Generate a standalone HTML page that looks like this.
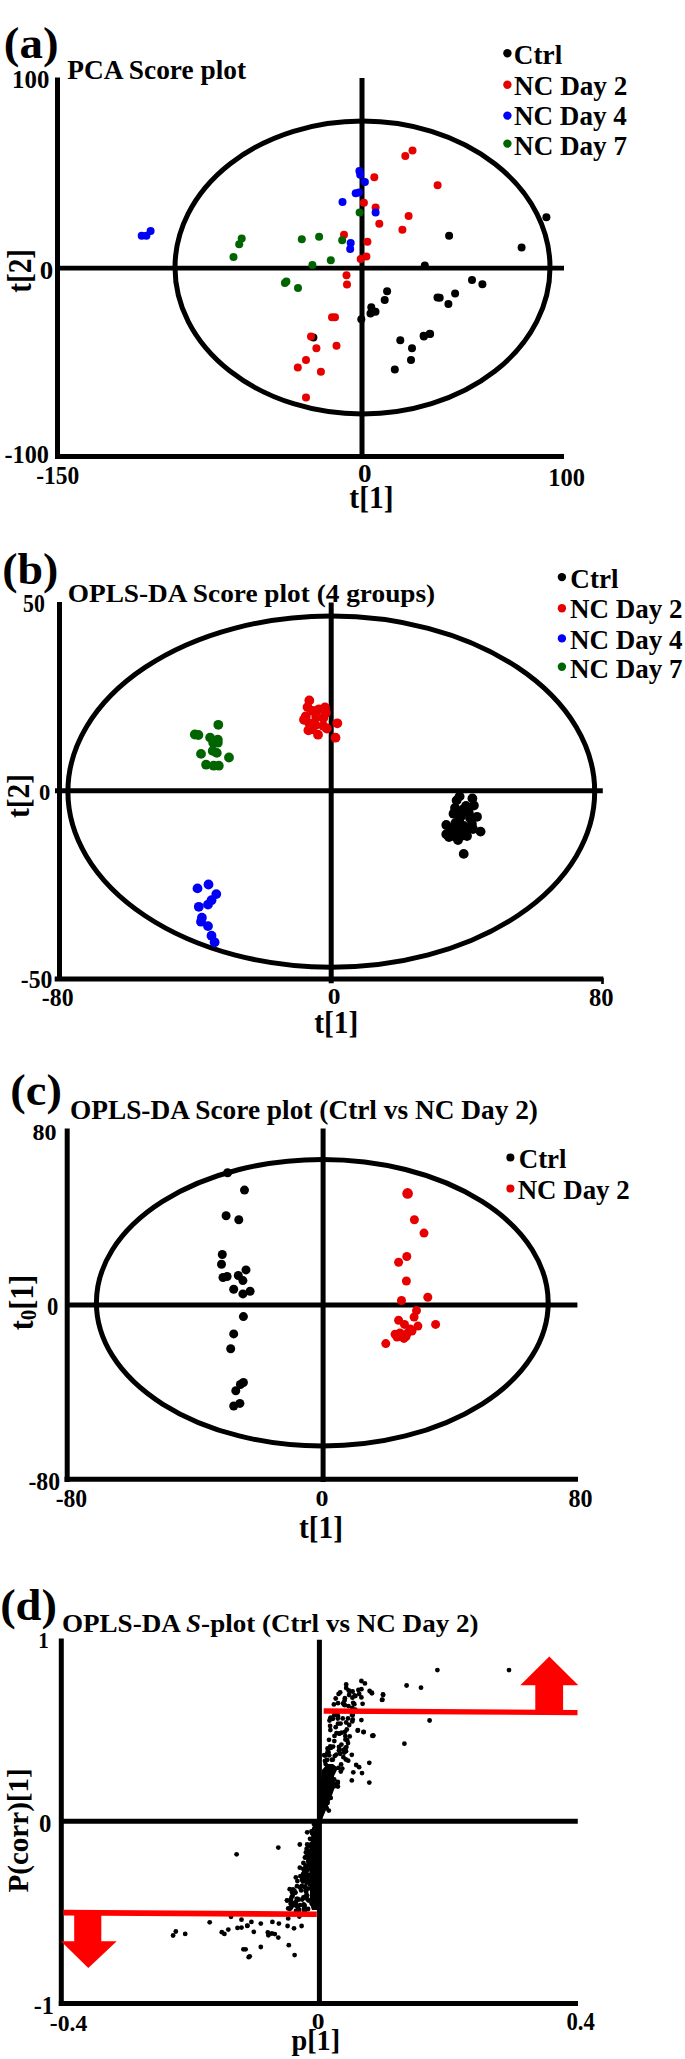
<!DOCTYPE html>
<html><head><meta charset="utf-8"><style>
html,body{margin:0;padding:0;background:#fff;}
body{width:685px;height:2059px;overflow:hidden;}
svg{display:block;}
text{font-family:"Liberation Serif",serif;font-weight:bold;fill:#000;}
</style></head><body>
<svg width="685" height="2059" viewBox="0 0 685 2059">
<rect width="685" height="2059" fill="#fff"/>
<ellipse cx="362.5" cy="267.5" rx="187.5" ry="146.5" fill="none" stroke="#000" stroke-width="5"/>
<line x1="57.5" y1="77.5" x2="57.5" y2="459" stroke="#000" stroke-width="5"/>
<line x1="55" y1="456.5" x2="564" y2="456.5" stroke="#000" stroke-width="5"/>
<line x1="57" y1="268.2" x2="564" y2="268.2" stroke="#000" stroke-width="4.8"/>
<line x1="362" y1="78" x2="362" y2="459" stroke="#000" stroke-width="5"/>
<circle cx="546.4" cy="217.2" r="4" fill="#000"/><circle cx="449.1" cy="235.8" r="4" fill="#000"/><circle cx="521.6" cy="247.4" r="4" fill="#000"/><circle cx="424.8" cy="265.6" r="4" fill="#000"/><circle cx="472.0" cy="280.0" r="4" fill="#000"/><circle cx="482.4" cy="284.2" r="4" fill="#000"/><circle cx="455.1" cy="293.4" r="4" fill="#000"/><circle cx="439.7" cy="297.8" r="4" fill="#000"/><circle cx="448.4" cy="304.0" r="4" fill="#000"/><circle cx="429.8" cy="333.8" r="4" fill="#000"/><circle cx="423.6" cy="335.8" r="4" fill="#000"/><circle cx="387.1" cy="291.2" r="4" fill="#000"/><circle cx="384.7" cy="299.9" r="4" fill="#000"/><circle cx="437.5" cy="297.4" r="4" fill="#000"/><circle cx="371.3" cy="307.3" r="4" fill="#000"/><circle cx="375.5" cy="311.8" r="4" fill="#000"/><circle cx="370.5" cy="313.5" r="4" fill="#000"/><circle cx="361.3" cy="319.2" r="4" fill="#000"/><circle cx="400.3" cy="340.3" r="4" fill="#000"/><circle cx="412.0" cy="348.3" r="4" fill="#000"/><circle cx="423.9" cy="336.6" r="4" fill="#000"/><circle cx="430.1" cy="334.1" r="4" fill="#000"/><circle cx="411.0" cy="359.9" r="4" fill="#000"/><circle cx="394.8" cy="369.4" r="4" fill="#000"/><circle cx="313.4" cy="337.6" r="4" fill="#000"/><circle cx="412.5" cy="150.5" r="4" fill="#e60000"/><circle cx="405.3" cy="156.1" r="4" fill="#e60000"/><circle cx="374.3" cy="177.2" r="4" fill="#e60000"/><circle cx="437.6" cy="185.2" r="4" fill="#e60000"/><circle cx="363.9" cy="202.7" r="4" fill="#e60000"/><circle cx="375.6" cy="207.4" r="4" fill="#e60000"/><circle cx="408.6" cy="216.1" r="4" fill="#e60000"/><circle cx="379.3" cy="223.8" r="4" fill="#e60000"/><circle cx="402.4" cy="229.8" r="4" fill="#e60000"/><circle cx="344.0" cy="234.7" r="4" fill="#e60000"/><circle cx="367.4" cy="241.7" r="4" fill="#e60000"/><circle cx="366.4" cy="256.6" r="4" fill="#e60000"/><circle cx="360.7" cy="259.1" r="4" fill="#e60000"/><circle cx="346.5" cy="275.2" r="4" fill="#e60000"/><circle cx="347.0" cy="284.4" r="4" fill="#e60000"/><circle cx="332.0" cy="317.2" r="4" fill="#e60000"/><circle cx="335.0" cy="317.2" r="4" fill="#e60000"/><circle cx="311.0" cy="336.6" r="4" fill="#e60000"/><circle cx="316.4" cy="348.3" r="4" fill="#e60000"/><circle cx="336.5" cy="345.8" r="4" fill="#e60000"/><circle cx="306.0" cy="359.9" r="4" fill="#e60000"/><circle cx="297.8" cy="367.4" r="4" fill="#e60000"/><circle cx="320.9" cy="371.8" r="4" fill="#e60000"/><circle cx="306.0" cy="397.6" r="4" fill="#e60000"/><circle cx="241.7" cy="238.5" r="4" fill="#006400"/><circle cx="239.2" cy="244.2" r="4" fill="#006400"/><circle cx="233.5" cy="257.1" r="4" fill="#006400"/><circle cx="301.8" cy="239.2" r="4" fill="#006400"/><circle cx="319.1" cy="236.7" r="4" fill="#006400"/><circle cx="342.2" cy="240.2" r="4" fill="#006400"/><circle cx="359.6" cy="212.4" r="4" fill="#006400"/><circle cx="330.8" cy="260.3" r="4" fill="#006400"/><circle cx="312.4" cy="265.0" r="4" fill="#006400"/><circle cx="284.9" cy="283.1" r="4" fill="#006400"/><circle cx="286.4" cy="281.4" r="4" fill="#006400"/><circle cx="298.0" cy="288.1" r="4" fill="#006400"/><circle cx="141.7" cy="235.8" r="4" fill="#0000f5"/><circle cx="146.4" cy="235.8" r="4" fill="#0000f5"/><circle cx="150.6" cy="231.1" r="4" fill="#0000f5"/><circle cx="359.4" cy="171.0" r="4" fill="#0000f5"/><circle cx="360.2" cy="174.7" r="4" fill="#0000f5"/><circle cx="364.9" cy="182.1" r="4" fill="#0000f5"/><circle cx="355.7" cy="193.3" r="4" fill="#0000f5"/><circle cx="358.9" cy="192.5" r="4" fill="#0000f5"/><circle cx="342.5" cy="202.0" r="4" fill="#0000f5"/><circle cx="375.6" cy="212.4" r="4" fill="#0000f5"/><circle cx="350.7" cy="242.9" r="4" fill="#0000f5"/><circle cx="350.2" cy="249.1" r="4" fill="#0000f5"/>
<ellipse cx="331.3" cy="791.6" rx="263.4" ry="175.6" fill="none" stroke="#000" stroke-width="5"/>
<line x1="59.5" y1="602" x2="59.5" y2="981" stroke="#000" stroke-width="5"/>
<line x1="54.7" y1="979.1" x2="603.4" y2="979.1" stroke="#000" stroke-width="5"/>
<rect x="601.2" y="978" width="2.6" height="6" fill="#000"/>
<line x1="55" y1="790.8" x2="602.8" y2="790.8" stroke="#000" stroke-width="5"/>
<line x1="331.2" y1="602.4" x2="331.2" y2="983.3" stroke="#000" stroke-width="5"/>
<circle cx="218.3" cy="724.8" r="4.9" fill="#006400"/><circle cx="194.8" cy="734.5" r="4.9" fill="#006400"/><circle cx="198.4" cy="735.0" r="4.9" fill="#006400"/><circle cx="210.1" cy="737.6" r="4.9" fill="#006400"/><circle cx="217.8" cy="739.6" r="4.9" fill="#006400"/><circle cx="213.2" cy="742.7" r="4.9" fill="#006400"/><circle cx="217.8" cy="742.7" r="4.9" fill="#006400"/><circle cx="201.0" cy="753.9" r="4.9" fill="#006400"/><circle cx="212.7" cy="750.9" r="4.9" fill="#006400"/><circle cx="216.8" cy="752.9" r="4.9" fill="#006400"/><circle cx="229.0" cy="757.5" r="4.9" fill="#006400"/><circle cx="206.1" cy="764.7" r="4.9" fill="#006400"/><circle cx="213.7" cy="765.7" r="4.9" fill="#006400"/><circle cx="218.8" cy="765.7" r="4.9" fill="#006400"/><circle cx="309.3" cy="700.5" r="4.9" fill="#e60000"/><circle cx="307.5" cy="707.1" r="4.9" fill="#e60000"/><circle cx="305.8" cy="716.3" r="4.9" fill="#e60000"/><circle cx="312.8" cy="711.0" r="4.9" fill="#e60000"/><circle cx="318.9" cy="709.3" r="4.9" fill="#e60000"/><circle cx="325.0" cy="707.5" r="4.9" fill="#e60000"/><circle cx="325.9" cy="712.8" r="4.9" fill="#e60000"/><circle cx="316.3" cy="717.2" r="4.9" fill="#e60000"/><circle cx="323.3" cy="718.0" r="4.9" fill="#e60000"/><circle cx="309.3" cy="723.3" r="4.9" fill="#e60000"/><circle cx="315.4" cy="725.0" r="4.9" fill="#e60000"/><circle cx="323.3" cy="725.9" r="4.9" fill="#e60000"/><circle cx="308.4" cy="730.3" r="4.9" fill="#e60000"/><circle cx="318.0" cy="734.7" r="4.9" fill="#e60000"/><circle cx="326.8" cy="728.5" r="4.9" fill="#e60000"/><circle cx="337.3" cy="723.3" r="4.9" fill="#e60000"/><circle cx="335.5" cy="737.7" r="4.9" fill="#e60000"/><circle cx="311.9" cy="729.4" r="4.9" fill="#e60000"/><circle cx="304.0" cy="719.8" r="4.9" fill="#e60000"/><circle cx="459.6" cy="796.4" r="4.9" fill="#000"/><circle cx="456.6" cy="800.4" r="4.9" fill="#000"/><circle cx="472.4" cy="798.4" r="4.9" fill="#000"/><circle cx="473.9" cy="805.5" r="4.9" fill="#000"/><circle cx="462.7" cy="809.6" r="4.9" fill="#000"/><circle cx="453.5" cy="813.7" r="4.9" fill="#000"/><circle cx="468.8" cy="812.7" r="4.9" fill="#000"/><circle cx="477.0" cy="816.8" r="4.9" fill="#000"/><circle cx="460.7" cy="816.8" r="4.9" fill="#000"/><circle cx="446.3" cy="825.0" r="4.9" fill="#000"/><circle cx="455.5" cy="822.9" r="4.9" fill="#000"/><circle cx="463.7" cy="826.0" r="4.9" fill="#000"/><circle cx="471.9" cy="823.9" r="4.9" fill="#000"/><circle cx="446.3" cy="834.2" r="4.9" fill="#000"/><circle cx="454.5" cy="836.2" r="4.9" fill="#000"/><circle cx="461.7" cy="835.7" r="4.9" fill="#000"/><circle cx="457.6" cy="830.1" r="4.9" fill="#000"/><circle cx="480.6" cy="831.6" r="4.9" fill="#000"/><circle cx="463.7" cy="853.9" r="4.9" fill="#000"/><circle cx="466.0" cy="806.0" r="4.9" fill="#000"/><circle cx="470.0" cy="818.0" r="4.9" fill="#000"/><circle cx="459.0" cy="822.0" r="4.9" fill="#000"/><circle cx="451.0" cy="829.0" r="4.9" fill="#000"/><circle cx="466.0" cy="830.0" r="4.9" fill="#000"/><circle cx="449.0" cy="837.0" r="4.9" fill="#000"/><circle cx="458.0" cy="840.0" r="4.9" fill="#000"/><circle cx="473.0" cy="829.0" r="4.9" fill="#000"/><circle cx="462.0" cy="813.0" r="4.9" fill="#000"/><circle cx="455.0" cy="808.0" r="4.9" fill="#000"/><circle cx="467.0" cy="836.0" r="4.9" fill="#000"/><circle cx="208.5" cy="884.5" r="4.9" fill="#0000f5"/><circle cx="197.5" cy="888.4" r="4.9" fill="#0000f5"/><circle cx="216.3" cy="894.1" r="4.9" fill="#0000f5"/><circle cx="211.5" cy="900.2" r="4.9" fill="#0000f5"/><circle cx="208.0" cy="904.6" r="4.9" fill="#0000f5"/><circle cx="198.8" cy="906.8" r="4.9" fill="#0000f5"/><circle cx="201.9" cy="917.7" r="4.9" fill="#0000f5"/><circle cx="201.0" cy="921.7" r="4.9" fill="#0000f5"/><circle cx="208.0" cy="926.1" r="4.9" fill="#0000f5"/><circle cx="211.5" cy="935.7" r="4.9" fill="#0000f5"/><circle cx="214.6" cy="942.3" r="4.9" fill="#0000f5"/>
<ellipse cx="322.3" cy="1302.7" rx="225.9" ry="143.3" fill="none" stroke="#000" stroke-width="5"/>
<line x1="67.2" y1="1128.4" x2="67.2" y2="1482" stroke="#000" stroke-width="5"/>
<line x1="64.5" y1="1479.2" x2="578" y2="1479.2" stroke="#000" stroke-width="5"/>
<line x1="67" y1="1305" x2="577.4" y2="1305" stroke="#000" stroke-width="5"/>
<line x1="323.1" y1="1128.5" x2="323.1" y2="1482" stroke="#000" stroke-width="5"/>
<circle cx="227.6" cy="1172.8" r="4.5" fill="#000"/><circle cx="244.5" cy="1190.1" r="4.5" fill="#000"/><circle cx="226.1" cy="1215.7" r="4.5" fill="#000"/><circle cx="238.8" cy="1219.8" r="4.5" fill="#000"/><circle cx="222.3" cy="1254.5" r="4.5" fill="#000"/><circle cx="221.5" cy="1264.2" r="4.5" fill="#000"/><circle cx="223.0" cy="1277.5" r="4.5" fill="#000"/><circle cx="227.1" cy="1276.5" r="4.5" fill="#000"/><circle cx="246.0" cy="1269.9" r="4.5" fill="#000"/><circle cx="238.3" cy="1275.5" r="4.5" fill="#000"/><circle cx="242.9" cy="1280.6" r="4.5" fill="#000"/><circle cx="233.7" cy="1289.3" r="4.5" fill="#000"/><circle cx="242.9" cy="1293.9" r="4.5" fill="#000"/><circle cx="250.1" cy="1291.3" r="4.5" fill="#000"/><circle cx="243.4" cy="1316.6" r="4.5" fill="#000"/><circle cx="233.7" cy="1333.9" r="4.5" fill="#000"/><circle cx="230.7" cy="1348.8" r="4.5" fill="#000"/><circle cx="243.4" cy="1382.5" r="4.5" fill="#000"/><circle cx="240.4" cy="1384.5" r="4.5" fill="#000"/><circle cx="235.8" cy="1390.7" r="4.5" fill="#000"/><circle cx="239.9" cy="1403.4" r="4.5" fill="#000"/><circle cx="233.7" cy="1406.0" r="4.5" fill="#000"/><circle cx="414.4" cy="1219.7" r="4.5" fill="#e60000"/><circle cx="424.0" cy="1233.1" r="4.5" fill="#e60000"/><circle cx="406.8" cy="1256.5" r="4.5" fill="#e60000"/><circle cx="398.6" cy="1262.3" r="4.5" fill="#e60000"/><circle cx="406.4" cy="1281.0" r="4.5" fill="#e60000"/><circle cx="427.8" cy="1297.3" r="4.5" fill="#e60000"/><circle cx="401.5" cy="1300.5" r="4.5" fill="#e60000"/><circle cx="416.5" cy="1310.6" r="4.5" fill="#e60000"/><circle cx="414.1" cy="1317.1" r="4.5" fill="#e60000"/><circle cx="398.6" cy="1320.3" r="4.5" fill="#e60000"/><circle cx="404.5" cy="1324.4" r="4.5" fill="#e60000"/><circle cx="417.9" cy="1326.1" r="4.5" fill="#e60000"/><circle cx="410.3" cy="1329.1" r="4.5" fill="#e60000"/><circle cx="395.1" cy="1334.3" r="4.5" fill="#e60000"/><circle cx="407.4" cy="1333.1" r="4.5" fill="#e60000"/><circle cx="403.9" cy="1338.4" r="4.5" fill="#e60000"/><circle cx="385.8" cy="1343.6" r="4.5" fill="#e60000"/><circle cx="435.6" cy="1324.4" r="4.5" fill="#e60000"/><circle cx="400.0" cy="1333.0" r="4.5" fill="#e60000"/><circle cx="406.0" cy="1336.5" r="4.5" fill="#e60000"/><circle cx="412.0" cy="1331.0" r="4.5" fill="#e60000"/><circle cx="397.0" cy="1337.0" r="4.5" fill="#e60000"/><circle cx="407.6" cy="1193.4" r="5.3" fill="#e60000"/>
<line x1="61.3" y1="1638.4" x2="61.3" y2="2006" stroke="#000" stroke-width="5"/>
<line x1="58.8" y1="2003.5" x2="578" y2="2003.5" stroke="#000" stroke-width="5"/>
<line x1="61" y1="1821.2" x2="577.8" y2="1821.2" stroke="#000" stroke-width="5"/>
<line x1="319.4" y1="1639.7" x2="319.4" y2="2006" stroke="#000" stroke-width="5"/>
<polygon points="319,1823 323.5,1816 331,1798 335,1787 334,1776 338,1768 333,1764 327,1764 322,1770 320,1790" fill="#000"/>
<polygon points="319,1820 316,1822 313,1827 312,1832 311,1846 309,1864 310,1880 310,1904 312,1910 319,1910" fill="#000"/>
<circle cx="361.4" cy="1681.0" r="2.4" fill="#000"/><circle cx="364.9" cy="1683.4" r="2.4" fill="#000"/><circle cx="346.2" cy="1684.5" r="2.4" fill="#000"/><circle cx="346.2" cy="1688.0" r="2.4" fill="#000"/><circle cx="361.4" cy="1689.2" r="2.4" fill="#000"/><circle cx="369.6" cy="1691.0" r="2.4" fill="#000"/><circle cx="371.9" cy="1693.3" r="2.4" fill="#000"/><circle cx="349.7" cy="1691.5" r="2.4" fill="#000"/><circle cx="352.6" cy="1691.5" r="2.4" fill="#000"/><circle cx="338.6" cy="1693.9" r="2.4" fill="#000"/><circle cx="383.0" cy="1694.5" r="2.4" fill="#000"/><circle cx="382.4" cy="1699.7" r="2.4" fill="#000"/><circle cx="349.1" cy="1695.0" r="2.4" fill="#000"/><circle cx="361.4" cy="1697.4" r="2.4" fill="#000"/><circle cx="335.7" cy="1698.5" r="2.4" fill="#000"/><circle cx="362.6" cy="1703.8" r="2.4" fill="#000"/><circle cx="333.9" cy="1704.4" r="2.4" fill="#000"/><circle cx="338.0" cy="1703.2" r="2.4" fill="#000"/><circle cx="348.5" cy="1706.1" r="2.4" fill="#000"/><circle cx="330.4" cy="1718.4" r="2.4" fill="#000"/><circle cx="338.0" cy="1716.1" r="2.4" fill="#000"/><circle cx="342.7" cy="1718.4" r="2.4" fill="#000"/><circle cx="352.0" cy="1714.9" r="2.4" fill="#000"/><circle cx="361.4" cy="1720.1" r="2.4" fill="#000"/><circle cx="346.2" cy="1722.5" r="2.4" fill="#000"/><circle cx="338.0" cy="1723.7" r="2.4" fill="#000"/><circle cx="335.7" cy="1727.2" r="2.4" fill="#000"/><circle cx="330.4" cy="1730.1" r="2.4" fill="#000"/><circle cx="357.9" cy="1730.1" r="2.4" fill="#000"/><circle cx="363.7" cy="1731.8" r="2.4" fill="#000"/><circle cx="373.1" cy="1735.3" r="2.4" fill="#000"/><circle cx="345.0" cy="1731.8" r="2.4" fill="#000"/><circle cx="339.2" cy="1733.6" r="2.4" fill="#000"/><circle cx="334.5" cy="1735.9" r="2.4" fill="#000"/><circle cx="372.3" cy="1735.8" r="2.4" fill="#000"/><circle cx="363.5" cy="1732.2" r="2.4" fill="#000"/><circle cx="357.7" cy="1730.7" r="2.4" fill="#000"/><circle cx="346.0" cy="1751.2" r="2.4" fill="#000"/><circle cx="351.8" cy="1754.8" r="2.4" fill="#000"/><circle cx="356.2" cy="1765.0" r="2.4" fill="#000"/><circle cx="359.1" cy="1767.2" r="2.4" fill="#000"/><circle cx="369.3" cy="1762.8" r="2.4" fill="#000"/><circle cx="353.3" cy="1772.3" r="2.4" fill="#000"/><circle cx="362.0" cy="1773.1" r="2.4" fill="#000"/><circle cx="351.8" cy="1780.4" r="2.4" fill="#000"/><circle cx="369.3" cy="1782.6" r="2.4" fill="#000"/><circle cx="334.3" cy="1786.2" r="2.4" fill="#000"/><circle cx="330.7" cy="1797.9" r="2.4" fill="#000"/><circle cx="348.2" cy="1760.7" r="2.4" fill="#000"/><circle cx="437.4" cy="1670.1" r="2.4" fill="#000"/><circle cx="509.0" cy="1670.1" r="2.4" fill="#000"/><circle cx="406.6" cy="1685.5" r="2.4" fill="#000"/><circle cx="421.0" cy="1687.7" r="2.4" fill="#000"/><circle cx="371.8" cy="1692.7" r="2.4" fill="#000"/><circle cx="383.1" cy="1694.9" r="2.4" fill="#000"/><circle cx="382.0" cy="1699.9" r="2.4" fill="#000"/><circle cx="429.6" cy="1720.5" r="2.4" fill="#000"/><circle cx="373.3" cy="1735.8" r="2.4" fill="#000"/><circle cx="404.4" cy="1743.7" r="2.4" fill="#000"/><circle cx="175.8" cy="1931.5" r="2.4" fill="#000"/><circle cx="173.1" cy="1935.5" r="2.4" fill="#000"/><circle cx="185.2" cy="1933.9" r="2.4" fill="#000"/><circle cx="209.7" cy="1922.3" r="2.4" fill="#000"/><circle cx="221.8" cy="1932.2" r="2.4" fill="#000"/><circle cx="224.4" cy="1933.9" r="2.4" fill="#000"/><circle cx="228.3" cy="1929.6" r="2.4" fill="#000"/><circle cx="231.0" cy="1916.8" r="2.4" fill="#000"/><circle cx="237.5" cy="1927.9" r="2.4" fill="#000"/><circle cx="241.5" cy="1919.7" r="2.4" fill="#000"/><circle cx="241.5" cy="1927.6" r="2.4" fill="#000"/><circle cx="247.4" cy="1925.6" r="2.4" fill="#000"/><circle cx="243.4" cy="1949.3" r="2.4" fill="#000"/><circle cx="248.7" cy="1957.2" r="2.4" fill="#000"/><circle cx="251.4" cy="1921.9" r="2.4" fill="#000"/><circle cx="247.3" cy="1925.9" r="2.4" fill="#000"/><circle cx="260.8" cy="1923.6" r="2.4" fill="#000"/><circle cx="272.4" cy="1921.9" r="2.4" fill="#000"/><circle cx="278.9" cy="1923.6" r="2.4" fill="#000"/><circle cx="253.8" cy="1931.8" r="2.4" fill="#000"/><circle cx="267.8" cy="1932.4" r="2.4" fill="#000"/><circle cx="271.9" cy="1933.5" r="2.4" fill="#000"/><circle cx="274.8" cy="1934.1" r="2.4" fill="#000"/><circle cx="268.4" cy="1935.3" r="2.4" fill="#000"/><circle cx="278.3" cy="1937.6" r="2.4" fill="#000"/><circle cx="287.6" cy="1926.0" r="2.4" fill="#000"/><circle cx="294.0" cy="1928.3" r="2.4" fill="#000"/><circle cx="301.6" cy="1926.0" r="2.4" fill="#000"/><circle cx="288.2" cy="1918.4" r="2.4" fill="#000"/><circle cx="299.3" cy="1916.6" r="2.4" fill="#000"/><circle cx="260.8" cy="1947.0" r="2.4" fill="#000"/><circle cx="288.8" cy="1945.2" r="2.4" fill="#000"/><circle cx="249.7" cy="1956.3" r="2.4" fill="#000"/><circle cx="294.6" cy="1955.1" r="2.4" fill="#000"/><circle cx="245.6" cy="1949.3" r="2.4" fill="#000"/><circle cx="287.0" cy="1900.3" r="2.4" fill="#000"/><circle cx="288.2" cy="1908.4" r="2.4" fill="#000"/><circle cx="291.7" cy="1905.5" r="2.4" fill="#000"/><circle cx="295.2" cy="1902.6" r="2.4" fill="#000"/><circle cx="298.7" cy="1899.7" r="2.4" fill="#000"/><circle cx="303.4" cy="1897.3" r="2.4" fill="#000"/><circle cx="308.1" cy="1909.0" r="2.4" fill="#000"/><circle cx="312.7" cy="1903.2" r="2.4" fill="#000"/><circle cx="315.1" cy="1897.3" r="2.4" fill="#000"/><circle cx="304.6" cy="1905.5" r="2.4" fill="#000"/><circle cx="236.6" cy="1854.3" r="2.4" fill="#000"/><circle cx="278.3" cy="1847.6" r="2.4" fill="#000"/><circle cx="299.8" cy="1844.5" r="2.4" fill="#000"/><circle cx="307.2" cy="1832.3" r="2.4" fill="#000"/><circle cx="307.2" cy="1844.5" r="2.4" fill="#000"/><circle cx="299.8" cy="1867.7" r="2.4" fill="#000"/><circle cx="295.8" cy="1877.4" r="2.4" fill="#000"/><circle cx="289.7" cy="1889.2" r="2.4" fill="#000"/><circle cx="287.1" cy="1900.6" r="2.4" fill="#000"/><circle cx="340.2" cy="1753.8" r="2.4" fill="#000"/><circle cx="344.6" cy="1752.0" r="2.4" fill="#000"/><circle cx="344.1" cy="1752.6" r="2.4" fill="#000"/><circle cx="332.8" cy="1759.7" r="2.4" fill="#000"/><circle cx="338.9" cy="1750.6" r="2.4" fill="#000"/><circle cx="327.9" cy="1751.0" r="2.4" fill="#000"/><circle cx="329.2" cy="1755.3" r="2.4" fill="#000"/><circle cx="336.4" cy="1754.6" r="2.4" fill="#000"/><circle cx="327.0" cy="1759.9" r="2.4" fill="#000"/><circle cx="343.4" cy="1757.2" r="2.4" fill="#000"/><circle cx="328.4" cy="1752.3" r="2.4" fill="#000"/><circle cx="328.0" cy="1752.0" r="2.4" fill="#000"/><circle cx="327.1" cy="1753.8" r="2.4" fill="#000"/><circle cx="343.4" cy="1750.0" r="2.4" fill="#000"/><circle cx="330.8" cy="1747.9" r="2.4" fill="#000"/><circle cx="347.1" cy="1740.2" r="2.4" fill="#000"/><circle cx="346.4" cy="1747.1" r="2.4" fill="#000"/><circle cx="341.4" cy="1744.6" r="2.4" fill="#000"/><circle cx="345.6" cy="1748.0" r="2.4" fill="#000"/><circle cx="348.0" cy="1743.1" r="2.4" fill="#000"/><circle cx="334.3" cy="1741.1" r="2.4" fill="#000"/><circle cx="330.2" cy="1746.4" r="2.4" fill="#000"/><circle cx="327.6" cy="1748.5" r="2.4" fill="#000"/><circle cx="339.0" cy="1747.0" r="2.4" fill="#000"/><circle cx="339.6" cy="1750.0" r="2.4" fill="#000"/><circle cx="333.1" cy="1746.6" r="2.4" fill="#000"/><circle cx="340.6" cy="1723.6" r="2.4" fill="#000"/><circle cx="339.4" cy="1733.7" r="2.4" fill="#000"/><circle cx="330.1" cy="1725.9" r="2.4" fill="#000"/><circle cx="329.5" cy="1720.5" r="2.4" fill="#000"/><circle cx="349.2" cy="1725.0" r="2.4" fill="#000"/><circle cx="345.4" cy="1739.6" r="2.4" fill="#000"/><circle cx="341.7" cy="1732.7" r="2.4" fill="#000"/><circle cx="329.0" cy="1739.8" r="2.4" fill="#000"/><circle cx="349.7" cy="1736.4" r="2.4" fill="#000"/><circle cx="345.3" cy="1736.1" r="2.4" fill="#000"/><circle cx="352.3" cy="1721.4" r="2.4" fill="#000"/><circle cx="336.5" cy="1733.1" r="2.4" fill="#000"/><circle cx="346.8" cy="1729.5" r="2.4" fill="#000"/><circle cx="348.0" cy="1718.4" r="2.4" fill="#000"/><circle cx="352.2" cy="1708.0" r="2.4" fill="#000"/><circle cx="352.7" cy="1719.5" r="2.4" fill="#000"/><circle cx="337.8" cy="1718.6" r="2.4" fill="#000"/><circle cx="353.2" cy="1710.8" r="2.4" fill="#000"/><circle cx="352.8" cy="1714.9" r="2.4" fill="#000"/><circle cx="338.3" cy="1711.8" r="2.4" fill="#000"/><circle cx="334.3" cy="1715.2" r="2.4" fill="#000"/><circle cx="332.9" cy="1718.8" r="2.4" fill="#000"/><circle cx="355.3" cy="1709.7" r="2.4" fill="#000"/><circle cx="330.7" cy="1717.6" r="2.4" fill="#000"/><circle cx="344.8" cy="1705.2" r="2.4" fill="#000"/><circle cx="336.1" cy="1713.9" r="2.4" fill="#000"/><circle cx="355.4" cy="1696.1" r="2.4" fill="#000"/><circle cx="344.9" cy="1698.2" r="2.4" fill="#000"/><circle cx="354.3" cy="1704.2" r="2.4" fill="#000"/><circle cx="344.0" cy="1704.5" r="2.4" fill="#000"/><circle cx="340.2" cy="1692.4" r="2.4" fill="#000"/><circle cx="359.2" cy="1694.0" r="2.4" fill="#000"/><circle cx="354.7" cy="1695.5" r="2.4" fill="#000"/><circle cx="343.1" cy="1703.4" r="2.4" fill="#000"/><circle cx="353.2" cy="1702.8" r="2.4" fill="#000"/><circle cx="344.6" cy="1700.6" r="2.4" fill="#000"/><circle cx="358.4" cy="1690.0" r="2.4" fill="#000"/><circle cx="348.7" cy="1690.4" r="2.4" fill="#000"/><circle cx="352.4" cy="1697.7" r="2.4" fill="#000"/><circle cx="312.1" cy="1833.0" r="2.4" fill="#000"/><circle cx="311.5" cy="1831.3" r="2.4" fill="#000"/><circle cx="317.2" cy="1830.7" r="2.4" fill="#000"/><circle cx="312.8" cy="1844.1" r="2.4" fill="#000"/><circle cx="312.4" cy="1833.5" r="2.4" fill="#000"/><circle cx="313.9" cy="1824.1" r="2.4" fill="#000"/><circle cx="315.4" cy="1840.0" r="2.4" fill="#000"/><circle cx="315.9" cy="1830.3" r="2.4" fill="#000"/><circle cx="314.0" cy="1839.8" r="2.4" fill="#000"/><circle cx="314.8" cy="1837.3" r="2.4" fill="#000"/><circle cx="315.4" cy="1830.4" r="2.4" fill="#000"/><circle cx="314.3" cy="1828.5" r="2.4" fill="#000"/><circle cx="314.0" cy="1839.7" r="2.4" fill="#000"/><circle cx="317.1" cy="1828.8" r="2.4" fill="#000"/><circle cx="313.5" cy="1836.9" r="2.4" fill="#000"/><circle cx="315.7" cy="1822.3" r="2.4" fill="#000"/><circle cx="315.5" cy="1827.8" r="2.4" fill="#000"/><circle cx="315.8" cy="1832.6" r="2.4" fill="#000"/><circle cx="315.2" cy="1836.9" r="2.4" fill="#000"/><circle cx="315.0" cy="1830.0" r="2.4" fill="#000"/><circle cx="315.2" cy="1839.0" r="2.4" fill="#000"/><circle cx="316.3" cy="1830.1" r="2.4" fill="#000"/><circle cx="313.6" cy="1842.0" r="2.4" fill="#000"/><circle cx="315.7" cy="1844.5" r="2.4" fill="#000"/><circle cx="313.6" cy="1833.9" r="2.4" fill="#000"/><circle cx="316.7" cy="1825.8" r="2.4" fill="#000"/><circle cx="311.6" cy="1843.6" r="2.4" fill="#000"/><circle cx="314.4" cy="1837.9" r="2.4" fill="#000"/><circle cx="310.0" cy="1838.8" r="2.4" fill="#000"/><circle cx="313.0" cy="1839.9" r="2.4" fill="#000"/><circle cx="308.7" cy="1858.3" r="2.4" fill="#000"/><circle cx="312.4" cy="1857.5" r="2.4" fill="#000"/><circle cx="311.9" cy="1857.7" r="2.4" fill="#000"/><circle cx="308.3" cy="1845.6" r="2.4" fill="#000"/><circle cx="311.7" cy="1853.8" r="2.4" fill="#000"/><circle cx="312.6" cy="1849.4" r="2.4" fill="#000"/><circle cx="304.9" cy="1857.6" r="2.4" fill="#000"/><circle cx="307.4" cy="1854.4" r="2.4" fill="#000"/><circle cx="308.0" cy="1846.1" r="2.4" fill="#000"/><circle cx="307.5" cy="1851.3" r="2.4" fill="#000"/><circle cx="306.6" cy="1848.9" r="2.4" fill="#000"/><circle cx="308.9" cy="1854.3" r="2.4" fill="#000"/><circle cx="310.6" cy="1857.2" r="2.4" fill="#000"/><circle cx="314.6" cy="1849.8" r="2.4" fill="#000"/><circle cx="310.6" cy="1845.0" r="2.4" fill="#000"/><circle cx="309.8" cy="1850.6" r="2.4" fill="#000"/><circle cx="314.2" cy="1847.3" r="2.4" fill="#000"/><circle cx="305.9" cy="1852.5" r="2.4" fill="#000"/><circle cx="305.5" cy="1857.3" r="2.4" fill="#000"/><circle cx="308.2" cy="1855.9" r="2.4" fill="#000"/><circle cx="314.4" cy="1856.6" r="2.4" fill="#000"/><circle cx="308.2" cy="1861.4" r="2.4" fill="#000"/><circle cx="310.6" cy="1861.3" r="2.4" fill="#000"/><circle cx="306.9" cy="1852.4" r="2.4" fill="#000"/><circle cx="310.4" cy="1856.9" r="2.4" fill="#000"/><circle cx="313.7" cy="1864.1" r="2.4" fill="#000"/><circle cx="308.2" cy="1857.2" r="2.4" fill="#000"/><circle cx="303.4" cy="1862.9" r="2.4" fill="#000"/><circle cx="311.8" cy="1847.2" r="2.4" fill="#000"/><circle cx="306.0" cy="1857.3" r="2.4" fill="#000"/><circle cx="312.4" cy="1874.4" r="2.4" fill="#000"/><circle cx="306.5" cy="1870.6" r="2.4" fill="#000"/><circle cx="305.2" cy="1868.4" r="2.4" fill="#000"/><circle cx="303.6" cy="1879.6" r="2.4" fill="#000"/><circle cx="312.6" cy="1879.4" r="2.4" fill="#000"/><circle cx="303.2" cy="1873.9" r="2.4" fill="#000"/><circle cx="305.5" cy="1879.7" r="2.4" fill="#000"/><circle cx="304.8" cy="1871.2" r="2.4" fill="#000"/><circle cx="305.4" cy="1879.8" r="2.4" fill="#000"/><circle cx="307.3" cy="1869.3" r="2.4" fill="#000"/><circle cx="309.6" cy="1866.8" r="2.4" fill="#000"/><circle cx="304.3" cy="1871.7" r="2.4" fill="#000"/><circle cx="311.3" cy="1876.7" r="2.4" fill="#000"/><circle cx="308.8" cy="1865.2" r="2.4" fill="#000"/><circle cx="313.2" cy="1869.1" r="2.4" fill="#000"/><circle cx="302.2" cy="1876.7" r="2.4" fill="#000"/><circle cx="303.3" cy="1869.0" r="2.4" fill="#000"/><circle cx="302.0" cy="1879.8" r="2.4" fill="#000"/><circle cx="306.3" cy="1874.1" r="2.4" fill="#000"/><circle cx="308.1" cy="1874.7" r="2.4" fill="#000"/><circle cx="300.4" cy="1876.2" r="2.4" fill="#000"/><circle cx="303.1" cy="1876.4" r="2.4" fill="#000"/><circle cx="304.6" cy="1873.0" r="2.4" fill="#000"/><circle cx="308.0" cy="1869.5" r="2.4" fill="#000"/><circle cx="305.2" cy="1872.0" r="2.4" fill="#000"/><circle cx="307.7" cy="1876.2" r="2.4" fill="#000"/><circle cx="305.6" cy="1865.5" r="2.4" fill="#000"/><circle cx="312.9" cy="1871.8" r="2.4" fill="#000"/><circle cx="306.6" cy="1878.3" r="2.4" fill="#000"/><circle cx="311.5" cy="1865.2" r="2.4" fill="#000"/><circle cx="305.3" cy="1886.4" r="2.4" fill="#000"/><circle cx="305.7" cy="1890.6" r="2.4" fill="#000"/><circle cx="312.2" cy="1887.2" r="2.4" fill="#000"/><circle cx="301.8" cy="1885.8" r="2.4" fill="#000"/><circle cx="294.9" cy="1892.8" r="2.4" fill="#000"/><circle cx="310.7" cy="1884.4" r="2.4" fill="#000"/><circle cx="311.1" cy="1881.0" r="2.4" fill="#000"/><circle cx="301.2" cy="1890.4" r="2.4" fill="#000"/><circle cx="309.8" cy="1884.3" r="2.4" fill="#000"/><circle cx="293.2" cy="1893.7" r="2.4" fill="#000"/><circle cx="304.6" cy="1887.2" r="2.4" fill="#000"/><circle cx="300.0" cy="1887.5" r="2.4" fill="#000"/><circle cx="306.5" cy="1882.3" r="2.4" fill="#000"/><circle cx="292.1" cy="1892.2" r="2.4" fill="#000"/><circle cx="310.6" cy="1883.5" r="2.4" fill="#000"/><circle cx="306.2" cy="1891.9" r="2.4" fill="#000"/><circle cx="309.2" cy="1880.4" r="2.4" fill="#000"/><circle cx="314.0" cy="1894.7" r="2.4" fill="#000"/><circle cx="292.5" cy="1890.5" r="2.4" fill="#000"/><circle cx="295.5" cy="1892.6" r="2.4" fill="#000"/><circle cx="312.9" cy="1889.7" r="2.4" fill="#000"/><circle cx="294.4" cy="1890.7" r="2.4" fill="#000"/><circle cx="312.4" cy="1884.4" r="2.4" fill="#000"/><circle cx="306.9" cy="1882.2" r="2.4" fill="#000"/><circle cx="297.0" cy="1886.2" r="2.4" fill="#000"/><circle cx="293.0" cy="1889.3" r="2.4" fill="#000"/><circle cx="302.9" cy="1881.6" r="2.4" fill="#000"/><circle cx="297.4" cy="1881.1" r="2.4" fill="#000"/><circle cx="308.4" cy="1888.6" r="2.4" fill="#000"/><circle cx="293.2" cy="1893.2" r="2.4" fill="#000"/><circle cx="295.7" cy="1902.3" r="2.4" fill="#000"/><circle cx="300.0" cy="1905.2" r="2.4" fill="#000"/><circle cx="296.0" cy="1911.0" r="2.4" fill="#000"/><circle cx="306.4" cy="1895.9" r="2.4" fill="#000"/><circle cx="304.6" cy="1897.6" r="2.4" fill="#000"/><circle cx="311.6" cy="1903.6" r="2.4" fill="#000"/><circle cx="303.7" cy="1904.4" r="2.4" fill="#000"/><circle cx="302.3" cy="1899.5" r="2.4" fill="#000"/><circle cx="307.5" cy="1899.3" r="2.4" fill="#000"/><circle cx="290.6" cy="1903.8" r="2.4" fill="#000"/><circle cx="297.7" cy="1899.0" r="2.4" fill="#000"/><circle cx="291.1" cy="1907.5" r="2.4" fill="#000"/><circle cx="304.4" cy="1907.1" r="2.4" fill="#000"/><circle cx="305.6" cy="1896.4" r="2.4" fill="#000"/><circle cx="291.8" cy="1896.6" r="2.4" fill="#000"/><circle cx="293.2" cy="1905.1" r="2.4" fill="#000"/><circle cx="299.2" cy="1909.9" r="2.4" fill="#000"/><circle cx="308.6" cy="1900.5" r="2.4" fill="#000"/><circle cx="307.1" cy="1895.5" r="2.4" fill="#000"/><circle cx="292.6" cy="1895.9" r="2.4" fill="#000"/><circle cx="304.8" cy="1911.2" r="2.4" fill="#000"/><circle cx="291.1" cy="1898.8" r="2.4" fill="#000"/><circle cx="304.3" cy="1911.5" r="2.4" fill="#000"/><circle cx="289.7" cy="1909.0" r="2.4" fill="#000"/><circle cx="296.2" cy="1905.6" r="2.4" fill="#000"/><circle cx="296.7" cy="1899.0" r="2.4" fill="#000"/><circle cx="296.1" cy="1905.4" r="2.4" fill="#000"/><circle cx="291.1" cy="1901.6" r="2.4" fill="#000"/><circle cx="304.0" cy="1909.1" r="2.4" fill="#000"/><circle cx="298.0" cy="1908.7" r="2.4" fill="#000"/><circle cx="327.5" cy="1803.0" r="2.4" fill="#000"/><circle cx="326.7" cy="1808.1" r="2.4" fill="#000"/><circle cx="325.6" cy="1805.2" r="2.4" fill="#000"/><circle cx="320.4" cy="1818.1" r="2.4" fill="#000"/><circle cx="320.7" cy="1816.0" r="2.4" fill="#000"/><circle cx="327.2" cy="1802.2" r="2.4" fill="#000"/><circle cx="321.5" cy="1804.8" r="2.4" fill="#000"/><circle cx="328.8" cy="1810.6" r="2.4" fill="#000"/><circle cx="329.5" cy="1791.9" r="2.4" fill="#000"/><circle cx="324.7" cy="1793.9" r="2.4" fill="#000"/><circle cx="324.4" cy="1798.0" r="2.4" fill="#000"/><circle cx="328.0" cy="1795.1" r="2.4" fill="#000"/><circle cx="326.7" cy="1788.6" r="2.4" fill="#000"/><circle cx="326.2" cy="1796.7" r="2.4" fill="#000"/><circle cx="326.0" cy="1797.9" r="2.4" fill="#000"/><circle cx="328.7" cy="1796.9" r="2.4" fill="#000"/><circle cx="337.9" cy="1786.6" r="2.4" fill="#000"/><circle cx="337.8" cy="1782.9" r="2.4" fill="#000"/><circle cx="334.2" cy="1779.4" r="2.4" fill="#000"/><circle cx="337.8" cy="1781.8" r="2.4" fill="#000"/><circle cx="334.3" cy="1785.7" r="2.4" fill="#000"/><circle cx="334.3" cy="1783.8" r="2.4" fill="#000"/><circle cx="327.8" cy="1779.0" r="2.4" fill="#000"/><circle cx="325.5" cy="1784.8" r="2.4" fill="#000"/><circle cx="326.7" cy="1773.5" r="2.4" fill="#000"/><circle cx="340.8" cy="1771.6" r="2.4" fill="#000"/><circle cx="330.1" cy="1772.0" r="2.4" fill="#000"/><circle cx="329.8" cy="1770.9" r="2.4" fill="#000"/><circle cx="338.4" cy="1767.9" r="2.4" fill="#000"/><circle cx="329.0" cy="1774.2" r="2.4" fill="#000"/><circle cx="342.3" cy="1768.6" r="2.4" fill="#000"/><circle cx="332.7" cy="1768.9" r="2.4" fill="#000"/><circle cx="324.1" cy="1755.2" r="2.4" fill="#000"/><circle cx="341.1" cy="1764.4" r="2.4" fill="#000"/><circle cx="325.0" cy="1760.9" r="2.4" fill="#000"/><circle cx="345.8" cy="1759.5" r="2.4" fill="#000"/><circle cx="331.7" cy="1759.8" r="2.4" fill="#000"/><circle cx="325.6" cy="1764.1" r="2.4" fill="#000"/><circle cx="334.8" cy="1756.0" r="2.4" fill="#000"/><circle cx="325.2" cy="1755.6" r="2.4" fill="#000"/>
<polygon points="323.7,1708.3 577.5,1709.9 577.5,1715.3 323.7,1713.7" fill="#ff0000"/>
<polygon points="63.5,1909.8 316.8,1911.4 316.8,1917.1 63.5,1915.6" fill="#ff0000"/>
<polygon points="549.3,1656.5 578.3,1685.3 563.1,1685.3 563.1,1713 535.3,1713 535.3,1685.3 520.3,1685.3" fill="#ff0000"/>
<polygon points="88.3,1968 116.7,1941.3 101.3,1941.3 101.3,1913 74.2,1913 74.2,1941.3 61,1941.3" fill="#ff0000"/>
<circle cx="507.4" cy="53.2" r="4.2" fill="#000"/>
<circle cx="507.4" cy="84.7" r="4.2" fill="#e60000"/>
<circle cx="507.4" cy="115.6" r="4.2" fill="#0000f5"/>
<circle cx="507.4" cy="143.6" r="4.2" fill="#006400"/>
<circle cx="561.9" cy="577.1" r="4.2" fill="#000"/>
<circle cx="561.9" cy="608.3" r="4.2" fill="#e60000"/>
<circle cx="561.9" cy="638.4" r="4.2" fill="#0000f5"/>
<circle cx="561.9" cy="666.8" r="4.2" fill="#006400"/>
<circle cx="510.4" cy="1157.4" r="4.0" fill="#000"/>
<circle cx="510.4" cy="1188.6" r="4.0" fill="#e60000"/>
<text transform="translate(3.82,58.00) scale(1.0484,1)" font-size="44.78">(a)</text>
<text transform="translate(67.25,79.33) scale(1.0133,1)" font-size="27.00">PCA Score plot</text>
<text transform="translate(12.12,88.30) scale(0.9913,1)" font-size="25.00">100</text>
<text transform="translate(39.72,278.59) scale(1.0604,1)" font-size="25.37">0</text>
<text transform="translate(4.53,463.18) scale(0.9361,1)" font-size="25.88">-100</text>
<text transform="translate(36.16,484.28) scale(0.9096,1)" font-size="25.88">-150</text>
<text transform="translate(357.91,482.20) scale(1.0761,1)" font-size="25.22">0</text>
<text transform="translate(548.14,486.28) scale(0.9410,1)" font-size="26.03">100</text>
<text transform="translate(349.31,507.71) scale(0.9163,1)" font-size="32.20">t[1]</text>
<text transform="translate(31.04,292.79) rotate(-90) scale(0.8732,1)" font-size="33.54">t[2]</text>
<text transform="translate(2.26,583.83) scale(1.0170,1)" font-size="45.11">(b)</text>
<text transform="translate(67.73,602.03) scale(1.0875,1)" font-size="25.11">OPLS-DA Score plot (4 groups)</text>
<text transform="translate(23.03,612.10) scale(0.8713,1)" font-size="25.07">50</text>
<text transform="translate(39.00,800.33) scale(0.9715,1)" font-size="23.28">0</text>
<text transform="translate(20.75,988.41) scale(0.9616,1)" font-size="24.63">-50</text>
<text transform="translate(41.85,1005.91) scale(0.9648,1)" font-size="24.63">-80</text>
<text transform="translate(327.68,1003.53) scale(1.0803,1)" font-size="23.58">0</text>
<text transform="translate(588.96,1006.29) scale(0.9648,1)" font-size="25.52">80</text>
<text transform="translate(314.21,1033.38) scale(0.9304,1)" font-size="31.71">t[1]</text>
<text transform="translate(28.65,818.09) rotate(-90) scale(0.9188,1)" font-size="31.95">t[2]</text>
<text transform="translate(10.34,1105.49) scale(1.0490,1)" font-size="44.33">(c)</text>
<text transform="translate(69.93,1118.90) scale(1.0256,1)" font-size="26.67">OPLS-DA Score plot (Ctrl vs NC Day 2)</text>
<text transform="translate(32.58,1139.83) scale(1.0214,1)" font-size="23.58">80</text>
<text transform="translate(46.90,1314.71) scale(0.9185,1)" font-size="24.63">0</text>
<text transform="translate(28.45,1489.70) scale(0.9590,1)" font-size="24.78">-80</text>
<text transform="translate(55.65,1507.21) scale(0.9616,1)" font-size="24.63">-80</text>
<text transform="translate(315.56,1506.42) scale(1.0800,1)" font-size="24.03">0</text>
<text transform="translate(568.38,1506.89) scale(0.9437,1)" font-size="25.52">80</text>
<text transform="translate(298.91,1538.19) scale(0.9295,1)" font-size="31.59">t[1]</text>
<text transform="translate(32.90,1330.20) rotate(-90) scale(0.9077,1)" font-size="33.05">t<tspan font-size="70%" dy="0.12em">0</tspan><tspan dy="-0.084em">[1]</tspan></text>
<text transform="translate(0.14,1620.43) scale(1.0306,1)" font-size="45.11">(d)</text>
<text transform="translate(61.95,1631.75) scale(1.0836,1)" font-size="25.00">OPLS-DA <tspan font-style="italic">S</tspan>-plot (Ctrl vs NC Day 2)</text>
<text transform="translate(38.21,1648.10) scale(0.8806,1)" font-size="23.94">1</text>
<text transform="translate(38.91,1832.12) scale(1.0241,1)" font-size="24.18">0</text>
<text transform="translate(33.73,2013.60) scale(0.9916,1)" font-size="24.39">-1</text>
<text transform="translate(49.85,2031.12) scale(0.9856,1)" font-size="24.03">-0.4</text>
<text transform="translate(311.78,2029.45) scale(1.1304,1)" font-size="22.54">0</text>
<text transform="translate(566.49,2030.41) scale(0.9213,1)" font-size="24.63">0.4</text>
<text transform="translate(291.42,2050.03) scale(0.9794,1)" font-size="28.89">p[1]</text>
<text transform="translate(28.27,1892.48) rotate(-90) scale(0.9790,1)" font-size="29.67">P(corr)[1]</text>
<text transform="translate(513.84,63.50) scale(0.9629,1)" font-size="28.30">Ctrl</text>
<text transform="translate(514.06,95.00) scale(0.9610,1)" font-size="28.30">NC Day 2</text>
<text transform="translate(514.06,125.30) scale(0.9557,1)" font-size="28.30">NC Day 4</text>
<text transform="translate(514.06,154.80) scale(0.9580,1)" font-size="28.30">NC Day 7</text>
<text transform="translate(570.34,587.70) scale(0.9588,1)" font-size="28.30">Ctrl</text>
<text transform="translate(569.96,618.40) scale(0.9541,1)" font-size="28.30">NC Day 2</text>
<text transform="translate(569.96,649.40) scale(0.9540,1)" font-size="28.30">NC Day 4</text>
<text transform="translate(569.96,678.20) scale(0.9554,1)" font-size="28.30">NC Day 7</text>
<text transform="translate(518.75,1167.80) scale(0.9506,1)" font-size="28.30">Ctrl</text>
<text transform="translate(517.66,1199.00) scale(0.9506,1)" font-size="28.30">NC Day 2</text>
</svg></body></html>
